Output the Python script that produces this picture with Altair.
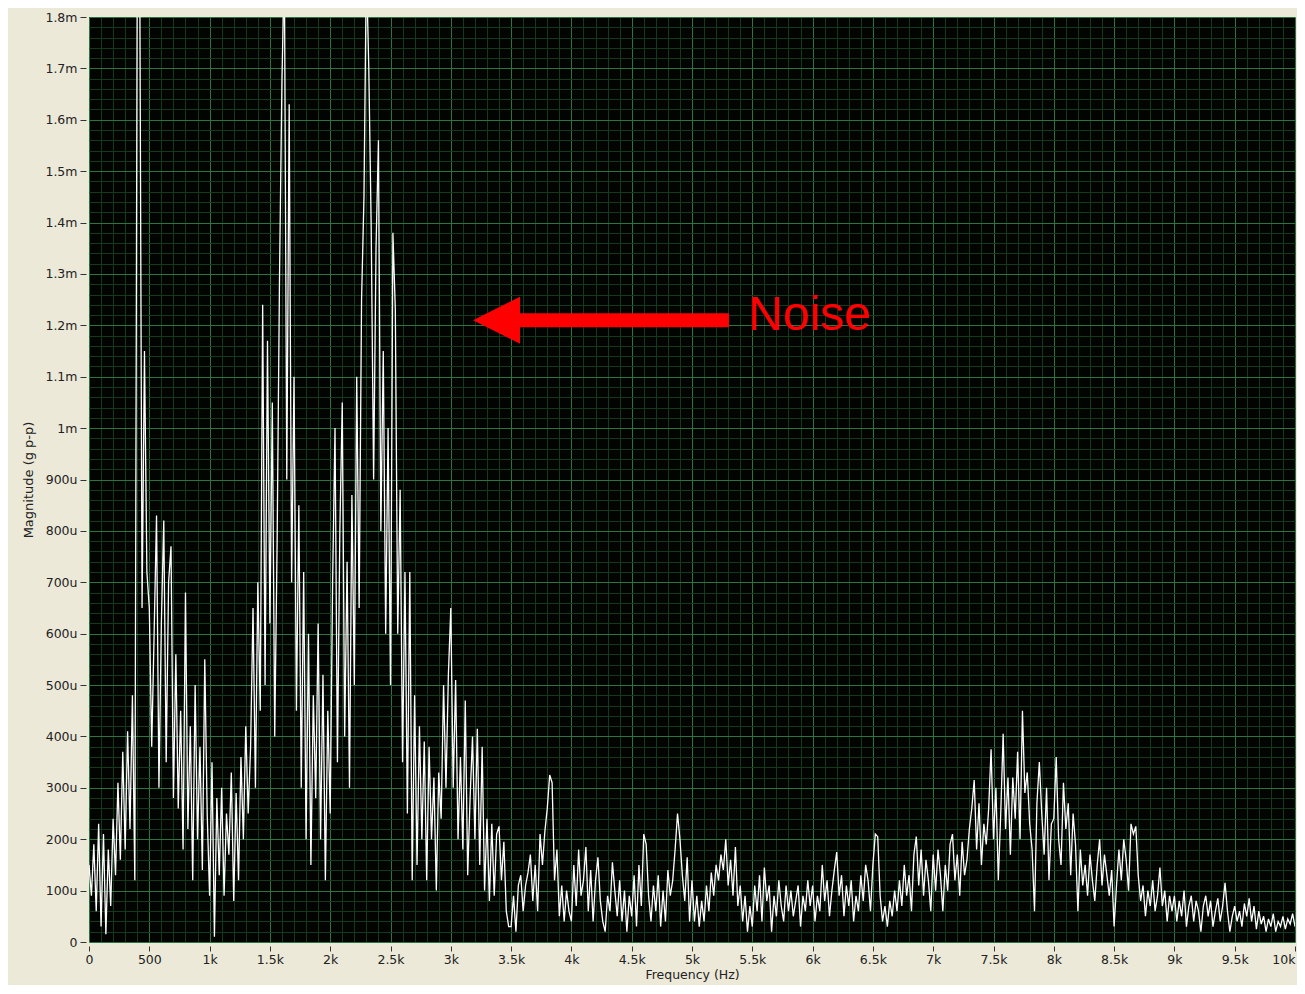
import altair as alt
import pandas as pd

# ---- data: magnitude (micro g p-p) every 20 Hz ----
FREQ_STEP = 20
mag_0000 = [150, 90, 190, 60, 230, 30, 210, 15, 180, 70, 240, 130, 310, 160, 370, 180, 410, 220, 480, 120, 1900, 1950, 650, 1150, 720]
mag_0500 = [650, 380, 600, 830, 300, 620, 820, 350, 700, 770, 280, 560, 260, 450, 180, 680, 220, 420, 120, 500, 200, 380, 140, 550, 250]
mag_1000 = [90, 350, 10, 280, 130, 300, 90, 250, 170, 330, 80, 290, 120, 360, 200, 420, 250, 380, 650, 300, 700, 450, 1240, 500, 1170]
mag_1500 = [620, 1050, 400, 780, 1300, 1680, 1900, 900, 1630, 700, 1100, 450, 850, 300, 720, 200, 600, 150, 480, 280, 620, 200, 520, 120, 450]
mag_2000 = [250, 700, 1000, 350, 800, 1050, 400, 740, 300, 870, 500, 1100, 650, 1250, 1450, 1900, 1700, 1390, 900, 1350, 1560, 800, 1150, 600, 1000]
mag_2500 = [500, 1380, 1230, 600, 880, 350, 720, 250, 720, 120, 480, 150, 420, 200, 390, 120, 380, 200, 320, 100, 330, 240, 500, 300, 520]
mag_3000 = [650, 300, 510, 200, 360, 180, 470, 130, 280, 400, 200, 415, 150, 380, 100, 240, 80, 230, 90, 210, 225, 120, 195, 60, 30]
mag_3500 = [30, 90, 20, 110, 130, 60, 110, 135, 170, 80, 150, 60, 210, 150, 215, 260, 325, 310, 120, 180, 50, 110, 40, 100, 60]
mag_4000 = [40, 150, 70, 180, 90, 120, 185, 60, 140, 40, 120, 165, 80, 40, 20, 90, 60, 155, 100, 50, 120, 40, 100, 20, 90]
mag_4500 = [50, 130, 30, 150, 70, 210, 190, 90, 40, 110, 60, 130, 30, 100, 40, 140, 90, 120, 180, 250, 200, 130, 80, 165, 40]
mag_5000 = [120, 40, 90, 30, 80, 40, 110, 60, 135, 90, 150, 120, 170, 140, 200, 110, 160, 90, 185, 70, 110, 40, 90, 20, 70]
mag_5500 = [30, 110, 60, 130, 40, 145, 80, 110, 20, 90, 50, 120, 70, 40, 110, 60, 100, 50, 80, 110, 30, 90, 60, 120, 70]
mag_6000 = [110, 40, 90, 60, 150, 80, 120, 50, 100, 140, 175, 90, 130, 50, 110, 70, 120, 40, 90, 60, 130, 80, 150, 120, 60]
mag_6500 = [150, 210, 205, 90, 40, 70, 30, 80, 50, 100, 60, 120, 70, 150, 90, 130, 60, 170, 205, 110, 180, 90, 160, 120, 60]
mag_7000 = [170, 100, 180, 130, 60, 150, 100, 190, 210, 120, 170, 90, 195, 130, 160, 220, 260, 315, 180, 270, 150, 230, 190, 260, 375]
mag_7500 = [200, 300, 120, 250, 405, 220, 320, 170, 320, 240, 370, 200, 450, 290, 330, 230, 180, 60, 270, 350, 250, 170, 300, 120, 230]
mag_8000 = [240, 360, 200, 150, 310, 220, 270, 130, 250, 190, 60, 180, 110, 150, 90, 170, 120, 80, 150, 200, 110, 170, 130, 90, 140]
mag_8500 = [30, 110, 180, 120, 200, 160, 100, 230, 210, 225, 130, 80, 110, 50, 100, 70, 120, 60, 90, 145, 70, 100, 40, 90, 60]
mag_9000 = [90, 40, 80, 50, 100, 30, 70, 90, 40, 80, 60, 20, 70, 90, 50, 80, 30, 60, 85, 40, 70, 115, 60, 20, 50]
mag_9500 = [70, 40, 60, 30, 75, 50, 85, 40, 70, 25, 60, 35, 50, 20, 45, 30, 55, 20, 40, 30, 50, 25, 45, 35, 55, 30]

magnitude = (mag_0000 + mag_0500 + mag_1000 + mag_1500 + mag_2000 + mag_2500 + mag_3000
             + mag_3500 + mag_4000 + mag_4500 + mag_5000 + mag_5500 + mag_6000 + mag_6500
             + mag_7000 + mag_7500 + mag_8000 + mag_8500 + mag_9000 + mag_9500)
frequency = [i * FREQ_STEP for i in range(len(magnitude))]

x_tick_values = list(range(0, 10001, 100))   # minor every 100 Hz, labelled every 500 Hz
y_tick_values = list(range(0, 1801, 20))     # minor every 20u, labelled every 100u

# annotation ("Noise" arrow) in data units
arrow_tip_hz = [3184]
arrow_neck_hz = [3540]
arrow_tail_hz = [5307]
arrow_level = [1210]
note_text = ["Noise"]
note_hz = [5465]
note_level = [1191]

df = pd.DataFrame({"f": frequency, "m": magnitude})
shaft_df = pd.DataFrame({"f": arrow_neck_hz, "f2": arrow_tail_hz, "m": arrow_level})
head_df = pd.DataFrame({"f": arrow_tip_hz, "m": arrow_level})
note_df = pd.DataFrame({"f": note_hz, "m": note_level, "t": note_text})

MAJOR = "#2C7440"
MINOR = "#15391D"
FONT = "DejaVu Sans"
TXT = "#222222"

xscale = alt.Scale(domain=[0, 10000], nice=False, zero=False)
yscale = alt.Scale(domain=[0, 1800], nice=False)

x_axis = alt.Axis(
    values=x_tick_values, grid=True,
    gridColor={"condition": {"test": "datum.value % 500 === 0", "value": MAJOR}, "value": MINOR},
    gridWidth=1, gridOpacity=1,
    ticks=True, tickSize=5, tickColor="#333333", tickWidth=1,
    tickOpacity={"condition": {"test": "datum.value % 500 === 0", "value": 1}, "value": 0},
    domain=False, offset=4,
    labelExpr="datum.value === 0 ? '0' : (datum.value % 500 !== 0 ? '' : (datum.value < 1000 ? '' + datum.value : (datum.value / 1000) + 'k'))",
    labelAlign={"condition": {"test": "datum.value === 10000", "value": "right"}, "value": "center"},
    labelOverlap=False, labelFlush=False, labelPadding=2,
    labelFont=FONT, labelFontSize=12.5, labelColor=TXT,
    title="Frequency (Hz)", titleFont=FONT, titleFontSize=12.5, titleFontWeight="normal",
    titleColor=TXT, titlePadding=3,
)
y_axis = alt.Axis(
    values=y_tick_values, grid=True,
    gridColor={"condition": {"test": "datum.value % 100 === 0", "value": MAJOR}, "value": MINOR},
    gridWidth=1, gridOpacity=1,
    ticks=True, tickSize=6, tickColor="#333333", tickWidth=1,
    tickOpacity={"condition": {"test": "datum.value % 100 === 0", "value": 1}, "value": 0},
    domain=False, offset=3,
    labelExpr="datum.value === 0 ? '0' : (datum.value % 100 !== 0 ? '' : (datum.value < 1000 ? datum.value + 'u' : (datum.value / 1000) + 'm'))",
    labelOverlap=False, labelFlush=False, labelPadding=3,
    labelFont=FONT, labelFontSize=12.5, labelColor=TXT,
    title="Magnitude (g p-p)", titleFont=FONT, titleFontSize=13, titleFontWeight="normal",
    titleColor=TXT, titlePadding=9,
)

X = alt.X("f:Q", scale=xscale, axis=x_axis)
Y = alt.Y("m:Q", scale=yscale, axis=y_axis)

line = alt.Chart(df).mark_line(color="#FFFFFF", strokeWidth=1.3, clip=True).encode(x=X, y=Y)

shaft = alt.Chart(shaft_df).mark_rule(color="#FF0000", strokeWidth=14, strokeCap="butt").encode(
    x=X, x2="f2:Q", y=Y,
)

head = alt.Chart(head_df).mark_point(
    shape="M0,0L2,-1L2,1Z", size=47 * 47, filled=True, fill="#FF0000", opacity=1, strokeWidth=0
).encode(x=X, y=Y)

note = alt.Chart(note_df).mark_text(
    align="left", baseline="alphabetic", font="Liberation Sans", fontSize=48, color="#FF0000"
).encode(x=X, y=Y, text="t:N")

chart = alt.layer(line, shaft, head, note).properties(
    width=1206, height=925,
    autosize=alt.AutoSizeParams(type="none"),
    padding={"left": 81, "top": 9, "right": 2, "bottom": 43},
    background="#ECE9D8",
).configure_view(fill="#010401", stroke=None)

chart.save("out.html", embed_options={"renderer": "svg", "actions": False})
